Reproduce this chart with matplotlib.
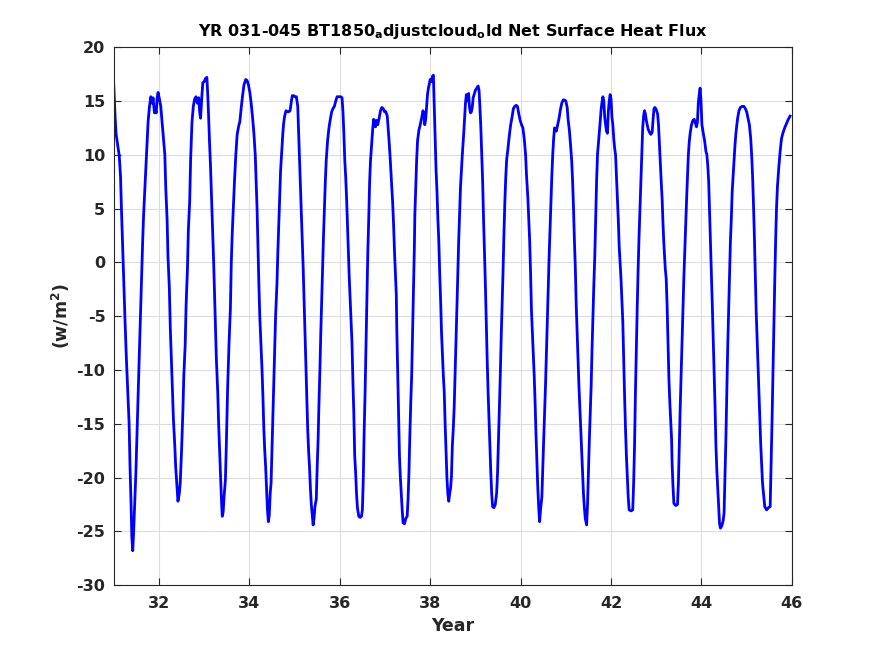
import numpy as np
import matplotlib
matplotlib.use("Agg")
import matplotlib.pyplot as plt

# time (model year) and net surface heat flux (W/m^2)
year = [
    31.00, 31.03, 31.05, 31.09, 31.12, 31.15, 31.17, 31.20, 31.23, 31.25, 31.28, 31.31,
    31.34, 31.36, 31.38, 31.40, 31.42, 31.44, 31.46, 31.49, 31.51, 31.54, 31.56, 31.59,
    31.61, 31.64, 31.66, 31.69, 31.71, 31.74, 31.76, 31.79, 31.82, 31.85, 31.87, 31.90,
    31.92, 31.94, 31.96, 31.98,
    32.01, 32.04, 32.07, 32.10, 32.13, 32.15, 32.18, 32.20, 32.23, 32.25, 32.27, 32.30,
    32.32, 32.35, 32.37, 32.40, 32.42, 32.45, 32.47, 32.50, 32.53, 32.55, 32.58, 32.60,
    32.63, 32.65, 32.68, 32.70, 32.73, 32.76, 32.79, 32.82, 32.85, 32.88, 32.90, 32.92,
    32.95, 32.97,
    33.00, 33.03, 33.06, 33.08, 33.10, 33.12, 33.14, 33.17, 33.19, 33.21, 33.23, 33.25,
    33.27, 33.30, 33.32, 33.34, 33.36, 33.38, 33.40, 33.42, 33.44, 33.47, 33.49, 33.52,
    33.55, 33.58, 33.60, 33.62, 33.65, 33.67, 33.70, 33.73, 33.76, 33.79, 33.82, 33.85,
    33.88, 33.92, 33.95, 33.98,
    34.01, 34.04, 34.07, 34.10, 34.13, 34.15, 34.17, 34.19, 34.21, 34.23, 34.26, 34.28,
    34.30, 34.32, 34.34, 34.36, 34.38, 34.40, 34.42, 34.44, 34.46, 34.48, 34.50, 34.52,
    34.54, 34.56, 34.58, 34.61, 34.63, 34.65, 34.67, 34.69, 34.72, 34.74, 34.76, 34.78,
    34.81, 34.84, 34.87, 34.90, 34.93, 34.95, 34.98,
    35.01, 35.04, 35.07, 35.09, 35.11, 35.13, 35.15, 35.17, 35.19, 35.21, 35.23, 35.25,
    35.27, 35.29, 35.31, 35.33, 35.35, 35.37, 35.39, 35.41, 35.43, 35.45, 35.48, 35.50,
    35.52, 35.54, 35.56, 35.58, 35.60, 35.62, 35.64, 35.66, 35.68, 35.70, 35.73, 35.76,
    35.79, 35.82, 35.85, 35.88, 35.91, 35.94, 35.98,
    36.02, 36.05, 36.07, 36.09, 36.11, 36.13, 36.15, 36.17, 36.19, 36.21, 36.23, 36.25,
    36.27, 36.29, 36.31, 36.33, 36.35, 36.37, 36.39, 36.42, 36.45, 36.48, 36.50, 36.52,
    36.54, 36.56, 36.58, 36.60, 36.62, 36.64, 36.66, 36.68, 36.71, 36.73, 36.75, 36.77,
    36.79, 36.81, 36.84, 36.87, 36.90, 36.93, 36.96, 36.99,
    37.02, 37.05, 37.07, 37.09, 37.11, 37.13, 37.15, 37.17, 37.19, 37.21, 37.23, 37.25,
    37.26, 37.28, 37.30, 37.32, 37.34, 37.36, 37.38, 37.40, 37.43, 37.46, 37.49, 37.51,
    37.53, 37.55, 37.57, 37.59, 37.61, 37.63, 37.65, 37.66, 37.68, 37.70, 37.72, 37.75,
    37.78, 37.81, 37.84, 37.86, 37.88, 37.90, 37.92, 37.94, 37.96, 37.98,
    38.00, 38.03, 38.05, 38.07, 38.09, 38.11, 38.13, 38.15, 38.17, 38.19, 38.21, 38.23,
    38.25, 38.27, 38.29, 38.31, 38.33, 38.35, 38.37, 38.39, 38.41, 38.43, 38.45, 38.47,
    38.49, 38.51, 38.53, 38.55, 38.57, 38.59, 38.61, 38.63, 38.65, 38.67, 38.69, 38.71,
    38.74, 38.76, 38.78, 38.80, 38.83, 38.85, 38.87, 38.89, 38.91, 38.93, 38.95, 38.98,
    39.00, 39.03, 39.06, 39.08, 39.10, 39.12, 39.14, 39.16, 39.18, 39.20, 39.22, 39.24,
    39.26, 39.28, 39.30, 39.32, 39.34, 39.36, 39.38, 39.41, 39.44, 39.47, 39.49, 39.51,
    39.53, 39.55, 39.57, 39.59, 39.61, 39.63, 39.65, 39.67, 39.69, 39.72, 39.75, 39.78,
    39.81, 39.84, 39.87, 39.90, 39.93, 39.96, 39.99,
    40.02, 40.05, 40.08, 40.11, 40.13, 40.16, 40.18, 40.20, 40.22, 40.24, 40.26, 40.28,
    40.30, 40.32, 40.34, 40.36, 40.38, 40.40, 40.42, 40.44, 40.47, 40.49, 40.51, 40.53,
    40.55, 40.57, 40.59, 40.61, 40.63, 40.65, 40.67, 40.69, 40.71, 40.73, 40.75, 40.77,
    40.79, 40.82, 40.85, 40.88, 40.91, 40.94, 40.97,
    41.00, 41.03, 41.05, 41.08, 41.11, 41.13, 41.15, 41.17, 41.19, 41.21, 41.23, 41.25,
    41.27, 41.29, 41.31, 41.33, 41.35, 41.37, 41.39, 41.41, 41.43, 41.46, 41.48, 41.50,
    41.52, 41.54, 41.56, 41.58, 41.60, 41.62, 41.64, 41.66, 41.68, 41.70, 41.72, 41.74,
    41.76, 41.78, 41.80, 41.82, 41.84, 41.86, 41.88, 41.90, 41.92, 41.94, 41.96, 41.98,
    42.00, 42.02, 42.04, 42.06, 42.08, 42.10, 42.12, 42.14, 42.16, 42.18, 42.20, 42.22,
    42.24, 42.26, 42.28, 42.30, 42.32, 42.34, 42.36, 42.38, 42.40, 42.44, 42.48, 42.50,
    42.52, 42.54, 42.56, 42.58, 42.60, 42.62, 42.64, 42.66, 42.68, 42.70, 42.72, 42.74,
    42.76, 42.78, 42.80, 42.82, 42.85, 42.88, 42.91, 42.93, 42.95, 42.97,
    43.00, 43.03, 43.05, 43.07, 43.09, 43.11, 43.13, 43.15, 43.17, 43.20, 43.22, 43.24,
    43.26, 43.28, 43.30, 43.32, 43.34, 43.35, 43.37, 43.39, 43.43, 43.47, 43.49, 43.51,
    43.53, 43.55, 43.57, 43.59, 43.61, 43.63, 43.65, 43.67, 43.69, 43.71, 43.73, 43.75,
    43.78, 43.81, 43.84, 43.87, 43.89, 43.91, 43.93, 43.95, 43.97, 43.99,
    44.01, 44.04, 44.07, 44.10, 44.12, 44.14, 44.16, 44.18, 44.20, 44.22, 44.24, 44.26,
    44.28, 44.30, 44.32, 44.34, 44.36, 44.38, 44.40, 44.42, 44.45, 44.48, 44.50, 44.52,
    44.54, 44.56, 44.58, 44.60, 44.62, 44.64, 44.66, 44.68, 44.70, 44.72, 44.74, 44.76,
    44.78, 44.80, 44.83, 44.86, 44.90, 44.94, 44.97,
    45.00, 45.03, 45.06, 45.09, 45.11, 45.13, 45.15, 45.17, 45.19, 45.21, 45.23, 45.25,
    45.27, 45.29, 45.31, 45.33, 45.35, 45.37, 45.40, 45.44, 45.48, 45.52, 45.54, 45.56,
    45.58, 45.60, 45.62, 45.64, 45.66, 45.68, 45.71, 45.74, 45.77, 45.80, 45.84, 45.88,
    45.92, 45.96,
]

flux = [
    16.5, 13.5, 12.0, 10.8, 10.0, 8.0, 5.0, 1.0, -3.0, -5.5, -9.0, -12.0,
    -15.0, -19.0, -22.0, -25.5, -26.8, -25.0, -22.7, -19.5, -16.5, -12.0, -9.3, -5.0,
    -2.1, 2.0, 4.4, 7.0, 8.8, 11.5, 13.1, 14.5, 15.4, 14.8, 15.3, 13.9,
    14.2, 13.9, 15.3, 15.8,
    15.2, 14.5, 13.0, 11.5, 10.0, 7.0, 4.0, 0.5, -2.4, -6.0, -8.4, -12.0,
    -14.6, -17.0, -19.0, -21.0, -22.2, -21.5, -20.5, -17.5, -13.7, -10.5, -7.7, -4.0,
    -0.6, 3.0, 5.7, 9.5, 13.0, 14.5, 15.2, 15.4, 14.8, 15.3, 14.0, 13.4,
    15.5, 16.7,
    16.8, 17.1, 17.2, 15.5, 13.4, 11.0, 9.0, 5.2, 2.8, 0.0, -3.0, -6.0,
    -9.0, -12.0, -15.0, -17.4, -19.6, -21.8, -23.6, -23.2, -21.8, -20.2, -17.0, -11.5,
    -7.5, -4.3, 0.0, 2.6, 5.5, 7.5, 10.0, 11.9, 12.6, 13.1, 14.4, 15.5,
    16.5, 17.0, 16.9, 16.5,
    15.8, 14.8, 13.5, 12.0, 10.0, 7.5, 5.0, 1.5, -2.0, -5.0, -8.0, -10.0,
    -12.5, -15.5, -17.5, -19.0, -21.0, -23.0, -24.1, -23.5, -21.5, -20.5, -17.4, -14.0,
    -11.0, -8.0, -5.0, -2.0, 1.0, 3.5, 6.3, 8.5, 10.6, 12.0, 13.0, 13.6,
    14.1, 14.0, 14.0, 14.1, 15.0, 15.5, 15.5,
    15.4, 15.4, 14.5, 12.0, 9.5, 7.0, 4.5, 2.0, -0.5, -3.5, -6.5, -9.5,
    -12.5, -15.5, -17.5, -19.0, -21.0, -22.5, -23.5, -24.4, -23.8, -22.7, -22.0, -19.0,
    -16.5, -13.0, -10.0, -6.5, -3.5, -0.5, 2.5, 5.0, 7.5, 9.5, 11.3, 12.5,
    13.3, 14.0, 14.3, 14.5, 15.0, 15.4, 15.4,
    15.4, 15.3, 14.0, 12.0, 9.5, 8.0, 6.0, 3.5, 1.3, -1.5, -3.4, -5.5,
    -7.5, -11.0, -14.0, -18.0, -19.5, -21.5, -22.8, -23.6, -23.7, -23.6, -23.0, -20.0,
    -15.5, -12.0, -7.5, -3.5, 1.0, 4.0, 7.5, 9.5, 11.3, 12.5, 13.3, 13.0,
    12.6, 13.2, 12.8, 13.4, 14.1, 14.4, 14.3, 14.0,
    14.0, 13.6, 12.5, 11.3, 10.0, 8.5, 7.0, 5.5, 3.5, 1.0, -1.0, -3.0,
    -6.0, -10.0, -14.0, -18.0, -20.0, -21.5, -23.0, -24.2, -24.3, -23.8, -23.6, -22.0,
    -19.5, -16.0, -13.0, -10.5, -6.5, -2.5, 1.5, 4.4, 7.0, 9.5, 11.3, 12.3,
    12.8, 13.4, 14.1, 13.8, 12.8, 13.3, 14.5, 15.6, 16.2, 16.6,
    17.0, 16.8, 17.3, 17.4, 14.5, 11.5, 8.5, 6.6, 4.0, 2.0, -1.0, -3.5,
    -6.5, -8.5, -10.5, -12.0, -15.0, -17.5, -20.0, -21.5, -22.2, -21.5, -21.0, -19.9,
    -17.0, -15.5, -13.5, -10.5, -7.7, -4.3, -1.0, 2.0, 4.5, 7.0, 8.5, 10.0,
    11.9, 13.4, 14.8, 15.6, 15.0, 15.7, 14.4, 13.9, 14.0, 14.4, 15.3, 15.7,
    16.0, 16.2, 16.4, 16.0, 14.4, 12.5, 10.0, 7.5, 4.0, 1.0, -2.0, -5.5,
    -9.0, -12.0, -14.5, -17.0, -19.5, -21.5, -22.7, -22.8, -22.5, -21.4, -19.5, -16.5,
    -13.5, -10.5, -7.0, -4.0, -1.0, 2.5, 5.5, 7.8, 9.5, 10.6, 11.8, 12.8,
    13.5, 14.3, 14.5, 14.6, 14.5, 13.8, 13.2,
    12.8, 12.5, 11.5, 10.0, 8.1, 6.0, 4.0, 2.0, -1.0, -4.5, -6.5, -8.5,
    -10.5, -13.0, -16.0, -18.5, -21.0, -22.8, -24.1, -23.0, -21.8, -19.0, -16.5, -14.0,
    -11.5, -8.5, -5.5, -2.5, 0.5, 3.0, 5.5, 8.0, 10.0, 11.5, 12.5, 12.3,
    12.2, 12.8, 13.4, 14.2, 14.8, 15.1, 15.1,
    15.0, 14.4, 13.3, 12.2, 10.6, 9.4, 7.5, 5.0, 2.0, -0.5, -4.0, -6.5,
    -9.0, -11.5, -13.5, -15.5, -17.5, -19.5, -21.5, -22.8, -23.8, -24.4, -22.5, -19.5,
    -16.5, -14.0, -11.5, -8.0, -5.0, -2.0, 0.5, 4.0, 7.5, 10.0, 11.0, 12.0,
    13.1, 14.2, 14.9, 15.4, 15.0, 13.5, 12.8, 12.2, 12.0, 14.0, 15.0, 15.6,
    15.2, 13.5, 12.8, 11.5, 10.6, 10.0, 8.0, 6.0, 4.0, 1.5, 0.0, -1.5,
    -3.5, -5.5, -9.0, -12.5, -15.5, -18.0, -20.0, -21.8, -23.0, -23.1, -23.0, -20.5,
    -17.0, -12.0, -8.0, -4.0, -0.5, 2.5, 5.0, 7.5, 10.0, 12.5, 13.6, 14.1,
    13.8, 13.2, 12.8, 12.4, 12.1, 11.9, 12.1, 13.3, 14.3, 14.4,
    14.2, 13.8, 12.8, 11.0, 9.0, 7.5, 5.9, 3.5, 1.6, -0.6, -1.5, -4.0,
    -7.4, -10.8, -13.0, -14.8, -16.5, -18.6, -20.8, -22.4, -22.6, -22.5, -20.5, -17.0,
    -13.5, -10.5, -7.7, -4.6, -1.5, 1.0, 3.8, 5.7, 7.8, 10.0, 11.2, 12.0,
    12.8, 13.2, 13.3, 12.9, 12.6, 13.0, 14.8, 15.6, 16.2, 15.0,
    12.8, 12.0, 11.3, 10.3, 10.0, 9.0, 7.5, 4.7, 1.6, -1.2, -4.0, -7.0,
    -10.0, -13.3, -17.0, -19.3, -21.0, -22.7, -24.3, -24.7, -24.5, -24.0, -23.3, -20.0,
    -16.5, -12.0, -8.0, -4.6, -1.2, 1.9, 4.0, 6.6, 8.0, 9.5, 10.8, 11.9,
    12.7, 13.4, 14.1, 14.4, 14.5, 14.5, 14.3,
    14.0, 13.4, 12.8, 11.5, 10.0, 8.1, 5.5, 2.5, -1.0, -4.5, -7.0, -9.5,
    -12.0, -14.6, -16.8, -18.6, -20.5, -21.4, -22.7, -23.0, -22.8, -22.7, -19.0, -15.0,
    -10.5, -5.6, -2.0, 1.9, 5.0, 7.0, 8.8, 10.3, 11.5, 12.0, 12.5, 12.9,
    13.3, 13.6,
]

xticks = [32, 34, 36, 38, 40, 42, 44, 46]
yticks = [-30, -25, -20, -15, -10, -5, 0, 5, 10, 15, 20]

plt.rcParams['font.family'] = 'DejaVu Sans'
plt.rcParams['font.weight'] = 'bold'
plt.rcParams['mathtext.default'] = 'bf'
plt.rcParams['axes.unicode_minus'] = False

axis_color = '#262626'

fig = plt.figure(figsize=(8.75, 6.56), dpi=100)
ax = fig.add_axes([0.13, 0.108, 0.775, 0.82])

ax.plot(np.array(year), np.array(flux), color=(0, 0, 1), linewidth=2.0)

ax.set_xlim(31, 46)
ax.set_ylim(-30, 20)
ax.set_xticks(xticks)
ax.set_yticks(yticks)
ax.grid(True, color='#dcdcdc', linewidth=0.8)
ax.set_axisbelow(True)

ax.tick_params(direction='in', length=5, width=0.8, colors=axis_color,
               labelsize=11.5, top=True, right=True)
ax.tick_params(axis='x', pad=8)
ax.tick_params(axis='y', pad=6)
for lab in ax.get_xticklabels() + ax.get_yticklabels():
    lab.set_fontweight('bold')
for sp in ax.spines.values():
    sp.set_color(axis_color)
    sp.set_linewidth(0.8)

ax.set_title(r'YR 031-045 BT1850$_{a}$djustcloud$_{o}$ld Net Surface Heat Flux',
             fontsize=11.5, fontweight='bold', color='black', pad=8)
ax.set_xlabel('Year', fontsize=12.5, fontweight='bold', color=axis_color, labelpad=4)
ax.set_ylabel(r'(w/m$^{2}$)', fontsize=12.5, fontweight='bold', color=axis_color,
              labelpad=3)

fig.savefig('out.png', dpi=100)
